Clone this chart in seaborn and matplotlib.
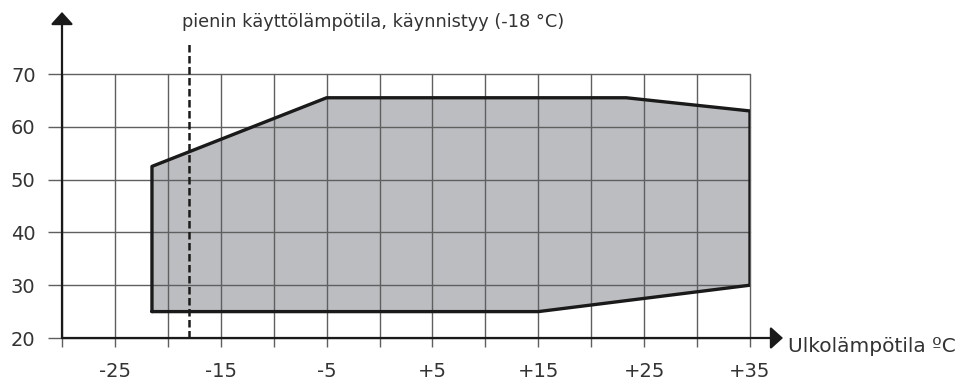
import numpy as np
import pandas as pd
import matplotlib.pyplot as plt
import seaborn as sns

# toiminta-alue: ulkolampotila (C) vs. menovesi (C)
envelope_temp = [-21.5, -21.5, -5, 23.3, 35, 35, 15, -21.5]
envelope_flow = [25, 52.5, 65.5, 65.5, 63, 30, 25, 25]

min_start_temp = -18
x_ticks = [-30, -25, -20, -15, -10, -5, 0, 5, 10, 15, 20, 25, 30, 35]
x_tick_labels = ["", "-25", "", "-15", "", "-5", "", "+5", "", "+15", "", "+25", "", "+35"]
y_ticks = [20, 30, 40, 50, 60, 70]

annotation_text = "pienin käyttölämpötila, käynnistyy (-18 °C)"
x_label = "Ulkolämpötila ºC"

sns.set_theme(style="white")
plt.rcParams["font.family"] = ["DejaVu Sans"]

W, H = 962, 383
fig = plt.figure(figsize=(W / 100, H / 100), dpi=100)
ax = fig.add_axes([62 / W, 1 - 338 / H, 688 / W, 264 / H])

df = pd.DataFrame({"temp": envelope_temp, "flow": envelope_flow})

ax.fill(df["temp"], df["flow"], color="#bcbdc1", zorder=1, lw=0)
sns.lineplot(data=df, x="temp", y="flow", sort=False, estimator=None,
             color="#1a1a1a", linewidth=2.4, ax=ax, zorder=4)

ax.set_xlim(-30, 35)
ax.set_ylim(20, 70)
ax.set_xticks(x_ticks)
ax.set_xticklabels(x_tick_labels)
ax.set_yticks(y_ticks)
ax.set_xlabel("")
ax.set_ylabel("")

for s in ax.spines.values():
    s.set_visible(False)

ax.set_axisbelow(False)
ax.grid(True, color="#5f5f5f", linewidth=1.0)
for gl in ax.get_xgridlines() + ax.get_ygridlines():
    gl.set_clip_on(False)
    gl.set_zorder(3)

ax.tick_params(axis="x", direction="out", length=6.5, width=1.0, color="#5f5f5f",
               pad=11, labelsize=14, labelcolor="#333333", bottom=True)
ax.tick_params(axis="y", direction="out", length=10, width=1.0, color="#5f5f5f",
               pad=9, labelsize=14, labelcolor="#333333", left=True)

# minimilampotila
ax.axvline(min_start_temp, ymin=0, ymax=(338 - 43) / 264, color="#1a1a1a",
           linewidth=1.8, dashes=(3, 1.4), clip_on=False, zorder=5)

# akselit nuolilla
arrow = dict(arrowstyle="-|>,head_length=0.75,head_width=0.68", color="#1a1a1a",
             lw=1.6, shrinkA=0, shrinkB=0, mutation_scale=10)
ax.annotate("", xy=(0, (338 - 12) / 264), xytext=(0, 0), xycoords="axes fraction",
            arrowprops=arrow, annotation_clip=False, zorder=6)
ax.annotate("", xy=((783 - 62) / 688, 0), xytext=(0, 0), xycoords="axes fraction",
            arrowprops=arrow, annotation_clip=False, zorder=6)

fig.text(182 / W, 1 - 22 / H, annotation_text, fontsize=12.8, color="#333333",
         ha="left", va="center")
fig.text(788 / W, 1 - 347 / H, x_label, fontsize=14.5, color="#333333",
         ha="left", va="center")

fig.savefig("out.png", dpi=100)
